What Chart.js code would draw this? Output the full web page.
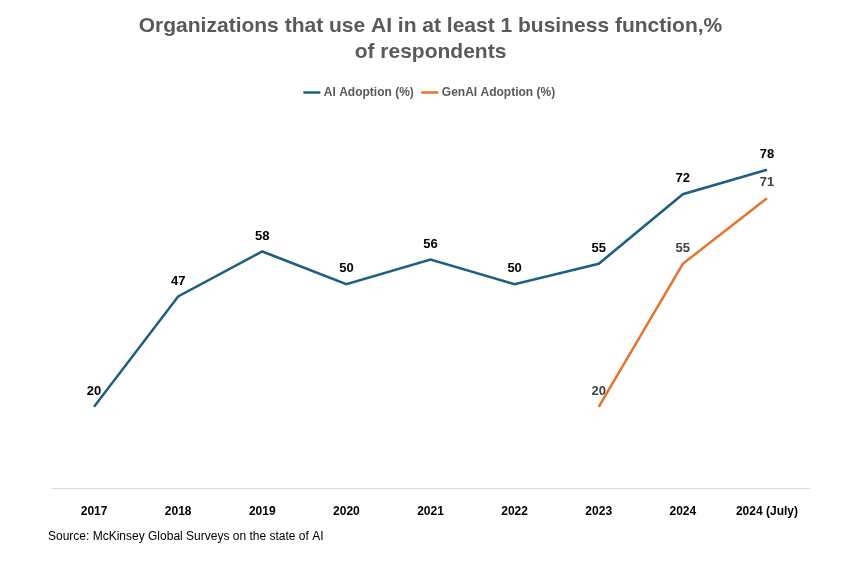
<!DOCTYPE html>
<html><head><meta charset="utf-8">
<script src="https://cdn.jsdelivr.net/npm/chart.js@4"></script>
<style>body{margin:0;background:#fff}#wrap{width:863px;height:568px}</style>
</head><body><div id="wrap"><canvas id="c"></canvas></div>
<script>
const years=["2017","2018","2019","2020","2021","2022","2023","2024","2024 (July)"];
const aiAdoption=[20,47,58,50,56,50,55,72,78];
const genAiAdoption=[null,null,null,null,null,null,20,55,71];

const labelsPlugin={
  id:"labels",
  afterDatasetsDraw(chart){
    let ctx=chart.ctx;
    ctx.save();
    ctx.font="bold 13px 'Liberation Sans', Arial";
    ctx.textAlign="center";ctx.textBaseline="bottom";
    chart.data.datasets.forEach((ds,i)=>{
      chart.getDatasetMeta(i).data.forEach((p,j)=>{
        if(ds.data[j]==null) return;
        ctx.fillStyle=i==0?"#000":"#404040";
        ctx.fillText(ds.data[j],p.x,p.y-9);
      });
    });
    ctx.font="12px 'Liberation Sans', Arial";
    ctx.fillStyle="#000";ctx.textAlign="left";ctx.textBaseline="middle";
    ctx.fillText("Source: McKinsey Global Surveys on the state of AI",48,537);
    ctx.restore();
  }
};

new Chart(document.getElementById("c"),{
  type:"line",
  data:{labels:years,datasets:[
    {label:"AI Adoption (%)",data:aiAdoption,borderColor:"#1f5f7f",backgroundColor:"#1f5f7f",borderWidth:2.5,pointRadius:0,tension:0},
    {label:"GenAI Adoption (%)",data:genAiAdoption,borderColor:"#e8722e",backgroundColor:"#e8722e",borderWidth:2.5,pointRadius:0,tension:0}
  ]},
  options:{
    responsive:true,maintainAspectRatio:false,animation:false,
    layout:{padding:{left:52,right:54,top:2,bottom:41}},
    plugins:{
      title:{display:true,text:["Organizations that use AI in at least 1 business function,%","of respondents"],
        color:"#595959",font:{family:"'Liberation Sans', Arial",size:21,weight:"bold"},padding:{top:12,bottom:12},lineHeight:1.25},
      legend:{labels:{usePointStyle:true,pointStyle:"line",boxWidth:25,color:"#595959",
        font:{family:"'Liberation Sans', Arial",size:12,weight:"bold"}},padding:20},
      tooltip:{enabled:false}
    },
    scales:{
      y:{display:false,min:0,max:93},
      x:{offset:true,grid:{display:false},border:{color:"#d9d9d9"},
        ticks:{color:"#000",padding:8,font:{family:"'Liberation Sans', Arial",size:12,weight:"bold"}}}
    }
  },
  plugins:[labelsPlugin]
});
</script></body></html>
